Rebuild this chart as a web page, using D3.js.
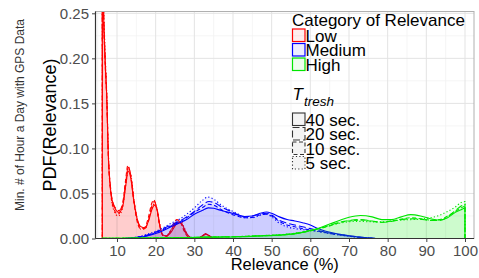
<!DOCTYPE html>
<html><head><meta charset="utf-8">
<script src="https://cdn.jsdelivr.net/npm/d3@7"></script>
<style>html,body{margin:0;padding:0;background:#fff}svg{display:block;font-family:Arial,"Liberation Sans",sans-serif}</style>
</head><body><svg id="c" width="479" height="278"></svg>
<script>
// ---- data ----
const categories = ["Low", "Medium", "High"];
const thresholds = ["40 sec.", "20 sec.", "10 sec.", "5 sec."];
const xTicks = [10, 20, 30, 40, 50, 60, 70, 80, 90, 100];
const yTicks = [0, 0.05, 0.10, 0.15, 0.20, 0.25];

const lowT40 = [[6.2,0.33],[6.5,0.255],[6.9,0.2],[7.4,0.15],[7.7,0.1],[8.4,0.052],[9.2,0.036],[10.5,0.029],[11.5,0.036],[12.3,0.06],[12.9,0.075],[13.6,0.066],[14.4,0.04],[15.2,0.022],[16.2,0.013],[17.2,0.012],[18.2,0.02],[19,0.032],[19.7,0.037],[20.4,0.031],[21.1,0.014],[21.9,0.004],[22.8,0.003],[24,0.007],[25,0.014],[26,0.018],[26.8,0.016],[27.6,0.009],[28.5,0.003],[29.5,0.0006],[31,0.0005],[32.2,0.003],[33,0.0048],[33.8,0.003],[35,0.0004],[38,0]];
const lowT20 = [[6.2,0.34],[6.5,0.26],[6.9,0.205],[7.4,0.152],[7.7,0.102],[8.4,0.054],[9.2,0.037],[10.5,0.031],[11.5,0.039],[12.3,0.064],[12.9,0.079],[13.6,0.069],[14.4,0.042],[15.2,0.022],[16.2,0.012],[17.2,0.011],[18.2,0.021],[19,0.036],[19.6,0.041],[20.3,0.034],[21.1,0.014],[21.9,0.003],[22.8,0.003],[24,0.009],[25,0.017],[25.8,0.02],[26.6,0.017],[27.5,0.008],[28.5,0.002],[29.5,0.0005],[31,0.0004],[32.2,0.003],[33,0.0052],[33.8,0.003],[35,0.0003],[38,0]];
const lowT10 = [[6.2,0.32],[6.5,0.25],[6.9,0.198],[7.4,0.148],[7.7,0.099],[8.4,0.05],[9.2,0.033],[10.2,0.027],[11.3,0.035],[12.2,0.064],[12.8,0.081],[13.5,0.071],[14.3,0.043],[15.1,0.021],[16.1,0.011],[17.1,0.012],[18.1,0.023],[18.9,0.038],[19.5,0.043],[20.2,0.035],[21,0.015],[21.8,0.004],[22.7,0.002],[23.8,0.008],[24.7,0.017],[25.5,0.021],[26.4,0.018],[27.3,0.009],[28.3,0.002],[29.5,0.0004],[31,0.0005],[32.2,0.0035],[33,0.0055],[33.8,0.0032],[35,0.0003],[38,0]];
const lowT5 = [[6.2,0.35],[6.5,0.27],[6.9,0.21],[7.4,0.155],[7.7,0.105],[8.4,0.05],[9.2,0.031],[10.3,0.025],[11.4,0.033],[12.3,0.061],[13,0.077],[13.7,0.068],[14.5,0.04],[15.3,0.02],[16.3,0.01],[17.3,0.011],[18.3,0.022],[19.1,0.034],[19.7,0.039],[20.4,0.032],[21.2,0.013],[22,0.003],[23,0.004],[24.2,0.011],[25.3,0.016],[25.9,0.017],[26.6,0.019],[27.4,0.012],[28.4,0.003],[29.5,0.0005],[31,0.0004],[32.2,0.0032],[33,0.005],[33.8,0.003],[35,0.0003],[38,0]];

const medT40 = [[12,0],[14,0.0005],[16,0.0015],[18,0.003],[20,0.0055],[22,0.009],[24,0.013],[26,0.017],[28,0.021],[30,0.027],[32,0.031],[33.6,0.034],[35,0.0335],[37,0.031],[39,0.029],[41,0.0265],[43,0.0245],[45,0.025],[47,0.028],[48.7,0.0295],[50,0.028],[52,0.024],[54,0.021],[56,0.0195],[58,0.0175],[60,0.015],[62,0.011],[64,0.008],[66,0.006],[68,0.0045],[70,0.003],[72,0.002],[74,0.001],[77,0]];
const medT20 = [[12,0],[14,0.0006],[16,0.002],[18,0.004],[20,0.007],[22,0.011],[24,0.015],[26,0.019],[28,0.024],[30,0.03],[32,0.037],[33.8,0.041],[35.5,0.039],[37,0.035],[39,0.031],[41,0.027],[43,0.024],[45,0.025],[47,0.027],[48.8,0.028],[50,0.026],[52,0.02],[54,0.017],[56,0.015],[58,0.013],[60,0.011],[62,0.009],[64,0.007],[66,0.005],[68,0.004],[70,0.0028],[72,0.0018],[74,0.001],[77,0]];
const medT10 = [[12,0],[14,0.0006],[16,0.0018],[18,0.0035],[20,0.0065],[22,0.01],[24,0.014],[26,0.018],[28,0.023],[30,0.029],[32,0.034],[33.7,0.038],[35.3,0.0365],[37,0.032],[39,0.028],[41,0.025],[43,0.023],[45,0.0235],[47,0.026],[48.6,0.027],[50,0.025],[52,0.019],[54,0.015],[56,0.013],[58,0.011],[60,0.0095],[62,0.008],[64,0.0065],[66,0.005],[68,0.0038],[70,0.0026],[72,0.0016],[74,0.0009],[77,0]];
const medT5 = [[12,0],[14,0.0008],[16,0.0025],[18,0.005],[20,0.008],[22,0.012],[24,0.017],[26,0.021],[28,0.027],[30,0.034],[32,0.042],[33.5,0.046],[35.2,0.043],[37,0.037],[39,0.032],[41,0.028],[43,0.023],[45,0.023],[47,0.026],[48.5,0.027],[50,0.024],[52,0.017],[54,0.013],[56,0.011],[58,0.01],[60,0.009],[62,0.0078],[64,0.0062],[66,0.0048],[68,0.0036],[70,0.0025],[72,0.0015],[74,0.0008],[77,0]];

const highT40 = [[6.2,0.0002],[15,0.0004],[25,0.0008],[35,0.0015],[42,0.002],[48,0.003],[53,0.004],[57,0.006],[60,0.009],[62.5,0.012],[65,0.016],[67.5,0.02],[70,0.0235],[73,0.0255],[76,0.024],[78.5,0.021],[81,0.021],[83.5,0.024],[86,0.0265],[88.5,0.025],[91,0.022],[93.5,0.0205],[95.5,0.023],[97.5,0.029],[99,0.032],[100,0.034]];
const highT20 = [[6.2,0.0002],[15,0.0004],[25,0.0009],[35,0.0016],[42,0.0022],[48,0.0032],[53,0.0042],[57,0.0062],[60,0.0088],[62.5,0.0115],[65,0.0145],[67.5,0.018],[70,0.02],[73,0.021],[76,0.0195],[78.5,0.018],[81,0.019],[83.5,0.021],[86,0.022],[88.5,0.0215],[91,0.02],[93.5,0.02],[95.5,0.024],[97.5,0.031],[99,0.036],[100,0.038]];
const highT10 = [[6.2,0.0002],[15,0.0004],[25,0.0009],[35,0.0015],[42,0.0021],[48,0.0031],[53,0.0041],[57,0.006],[60,0.0085],[62.5,0.011],[65,0.014],[67.5,0.0175],[70,0.0195],[73,0.0205],[76,0.019],[78.5,0.018],[81,0.0195],[83.5,0.0215],[86,0.023],[88.5,0.022],[91,0.0205],[93.5,0.021],[95.5,0.025],[97.5,0.03],[99,0.034],[100,0.036]];
const highT5 = [[6.2,0.0002],[15,0.0005],[25,0.001],[35,0.0017],[42,0.0023],[48,0.0033],[53,0.0045],[57,0.0065],[60,0.009],[62.5,0.0115],[65,0.0145],[67.5,0.017],[70,0.0185],[72.5,0.019],[76,0.0185],[78.5,0.0185],[81,0.0195],[83.5,0.0205],[86,0.021],[88.5,0.0215],[91,0.023],[93.5,0.026],[95.5,0.03],[97.5,0.035],[99,0.04],[100,0.041]];

const seriesByCat = {
  Low: [lowT40, lowT20, lowT10, lowT5],
  Medium: [medT40, medT20, medT10, medT5],
  High: [highT40, highT20, highT10, highT5]
};

// ---- styles ----
const catColor = {Low: "#ff0000", Medium: "#0000ff", High: "#00e600"};
const dash = ["none", "7,3", "4,2.5", "1.2,2.2"];

const svg = d3.select("#c");
const X0 = 95.5, X1 = 474, Y0 = 11.5, Y1 = 238.5;
const x = d3.scaleLinear().domain([4.44, 102.33]).range([X0, X1]);
const y = d3.scaleLinear().domain([0, 0.252]).range([Y1, Y0]);

svg.append("defs").append("clipPath").attr("id", "clip")
  .append("rect").attr("x", X0).attr("y", Y0).attr("width", X1 - X0).attr("height", Y1 - Y0);

// grid
const g = svg.append("g");
const xMinor = d3.range(5, 101, 10);
const yMinor = [0.025, 0.075, 0.125, 0.175, 0.225];
g.selectAll(".xm").data(xMinor).join("line").attr("x1", d => x(d)).attr("x2", d => x(d)).attr("y1", Y0).attr("y2", Y1).attr("stroke", "#f2f2f2").attr("stroke-width", 0.8);
g.selectAll(".ym").data(yMinor).join("line").attr("y1", d => y(d)).attr("y2", d => y(d)).attr("x1", X0).attr("x2", X1).attr("stroke", "#f2f2f2").attr("stroke-width", 0.8);
g.selectAll(".xM").data(xTicks).join("line").attr("x1", d => x(d)).attr("x2", d => x(d)).attr("y1", Y0).attr("y2", Y1).attr("stroke", "#e3e3e3").attr("stroke-width", 1);
g.selectAll(".yM").data(yTicks).join("line").attr("y1", d => y(d)).attr("y2", d => y(d)).attr("x1", X0).attr("x2", X1).attr("stroke", "#e3e3e3").attr("stroke-width", 1);

// densities
const area = d3.area().x(d => x(d[0])).y0(y(0)).y1(d => y(d[1])).curve(d3.curveMonotoneX);
const plot = svg.append("g").attr("clip-path", "url(#clip)");
categories.forEach(c => {
  seriesByCat[c].forEach((s, i) => {
    plot.append("path").attr("d", area(s))
      .attr("fill", catColor[c]).attr("fill-opacity", 0.05)
      .attr("stroke", catColor[c]).attr("stroke-width", 1.1)
      .attr("stroke-dasharray", dash[i]);
  });
});

// panel border & axes
svg.append("rect").attr("x", X0).attr("y", Y0).attr("width", X1 - X0).attr("height", Y1 - Y0)
  .attr("fill", "none").attr("stroke", "#b0b0b0").attr("stroke-width", 1);
svg.append("line").attr("x1", X0).attr("x2", X0).attr("y1", Y0).attr("y2", Y1).attr("stroke", "#333").attr("stroke-width", 1.2);
svg.append("line").attr("x1", X0).attr("x2", X1).attr("y1", Y1).attr("y2", Y1).attr("stroke", "#333").attr("stroke-width", 1.2);

const xAxis = svg.append("g").attr("transform", `translate(0,${Y1})`)
  .call(d3.axisBottom(x).tickValues(xTicks).tickSize(3.5).tickPadding(3).tickFormat(d3.format("d")));
const yAxis = svg.append("g").attr("transform", `translate(${X0},0)`)
  .call(d3.axisLeft(y).tickValues(yTicks).tickSize(3.5).tickPadding(3).tickFormat(d3.format(".2f")));
[xAxis, yAxis].forEach(a => {
  a.select(".domain").remove();
  a.selectAll(".tick line").attr("stroke", "#444");
  a.selectAll("text").attr("fill", "#4d4d4d").attr("font-size", 15).attr("font-family", "Arial, 'Liberation Sans', sans-serif");
});

// axis titles
svg.append("text").attr("x", (X0 + X1) / 2).attr("y", 270).attr("text-anchor", "middle")
  .attr("font-size", 16.5).attr("fill", "#000").text("Relevance (%)");
svg.append("text").attr("transform", "translate(56,125) rotate(-90)").attr("text-anchor", "middle")
  .attr("font-size", 18).attr("fill", "#000").text("PDF(Relevance)");
svg.append("text").attr("transform", "translate(23.5,115) rotate(-90)").attr("text-anchor", "middle")
  .attr("font-size", 12).attr("fill", "#333").text("Min. # of Hour a Day with GPS Data");

// legend
const lg = svg.append("g");
const LX = 292.5;
lg.append("text").attr("x", LX - 0.5).attr("y", 26).attr("font-size", 17).attr("fill", "#000").text("Category of Relevance");
categories.forEach((c, i) => {
  const ky = 29 + i * 14.5;
  lg.append("rect").attr("x", LX).attr("y", ky).attr("width", 12.5).attr("height", 12.5)
    .attr("fill", catColor[c]).attr("fill-opacity", 0.07)
    .attr("stroke", catColor[c]).attr("stroke-width", 1.2);
  lg.append("text").attr("x", LX + 13).attr("y", ky + 12.6).attr("font-size", 17).attr("fill", "#000").text(c);
});
const tt = lg.append("text").attr("x", LX).attr("y", 100).attr("font-size", 17).attr("font-style", "italic").attr("fill", "#000");
tt.append("tspan").text("T");
tt.append("tspan").attr("dy", 5.5).attr("dx", 1).attr("font-size", 13.5).text("tresh");
thresholds.forEach((t, i) => {
  const ky = 113 + i * 14.5;
  lg.append("rect").attr("x", LX).attr("y", ky).attr("width", 12.5).attr("height", 12.5)
    .attr("fill", "#f4f4f4").attr("stroke", "#333").attr("stroke-width", 1.1)
    .attr("stroke-dasharray", dash[i]);
  lg.append("text").attr("x", LX + 13).attr("y", ky + 12.6).attr("font-size", 17).attr("fill", "#000").text(t);
});
</script></body></html>
